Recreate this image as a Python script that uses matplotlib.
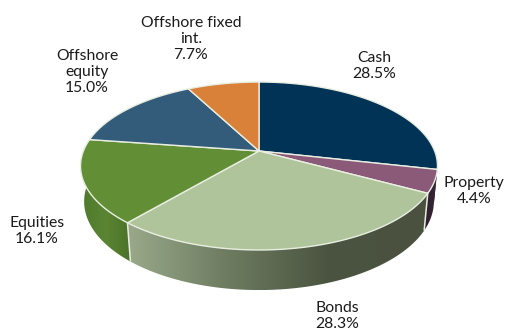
import numpy as np
import matplotlib
matplotlib.use("Agg")
import matplotlib.pyplot as plt
from matplotlib.colors import LinearSegmentedColormap
from matplotlib.patches import Polygon

# Portfolio allocation, clockwise from twelve o'clock
categories = ["Cash", "Property", "Bonds", "Equities", "Offshore equity", "Offshore fixed int."]
shares = [28.5, 4.4, 28.3, 16.1, 15.0, 7.7]
label_text = ["Cash", "Property", "Bonds", "Equities", "Offshore\nequity", "Offshore fixed\nint."]
label_xy = [(374, 66), (474, 191), (337, 316), (37, 231), (87, 72), (191, 39)]
top_colors = ["#003356", "#8a5a78", "#afc49a", "#628e36", "#335c7a", "#d98139"]
wall_stops = [
    ["#002540", "#002540"],
    ["#2f1f2e", "#3a2636"],
    ["#99a98a", "#6d7c60", "#4b5440", "#4a523f"],
    ["#4f7a2c", "#5a8533", "#4b7229"],
    ["#24425a", "#24425a"],
    ["#9c5c28", "#9c5c28"],
]
rim_color = "#e9eee2"

# Perspective projection of the unit disc; depth 0 is the top face, depth 1 the base
APEX_X, APEX_Y = 259.0, 151.0
SCALE_X, SCALE_Y, DROP = 175.6, 81.3, 35.7
TILT, SHRINK = -0.1786, 0.02


def project(theta_deg, radius=1.0, depth=0.0):
    t = np.radians(theta_deg)
    u, v = radius * np.sin(t), -radius * np.cos(t)
    w = 1 + TILT * v + SHRINK * depth
    return APEX_X + SCALE_X * u / w, APEX_Y + (SCALE_Y * v + DROP * depth) / w


plt.rcParams["font.family"] = ["Lato", "DejaVu Sans"]
fig = plt.figure(figsize=(5.05, 3.33), dpi=100)
ax = fig.add_axes([0, 0, 1, 1])
ax.set_xlim(0, 505)
ax.set_ylim(333, 0)
ax.axis("off")

edges = np.concatenate([[0], np.cumsum(shares)]) * 3.6

# Side walls of the near half, each with a horizontal shading ramp
for i in range(len(shares)):
    a, b = max(edges[i], 80), min(edges[i + 1], 285)
    if b <= a:
        continue
    th = np.linspace(a, b, 120)
    xt, yt = project(th)
    xb, yb = project(th, depth=1)
    xs = np.concatenate([xt, xb[::-1]])
    ys = np.concatenate([yt, yb[::-1]])
    poly = Polygon(np.column_stack([xs, ys]), closed=True, fc="none", ec="none", transform=ax.transData)
    ax.add_patch(poly)
    cmap = LinearSegmentedColormap.from_list(f"wall{i}", wall_stops[i])
    img = ax.imshow(
        np.linspace(0, 1, 256)[None, :], cmap=cmap, aspect="auto", zorder=2,
        extent=(xs.min(), xs.max(), ys.max(), ys.min()), interpolation="bilinear",
    )
    img.set_clip_path(poly)

# Dividers running down the wall where two visible slices meet
for angle in edges[2:4]:
    x0, y0 = project(angle)
    x1, y1 = project(angle, depth=1)
    ax.plot([x0, x1], [y0, y1], color=rim_color, lw=1.1, zorder=3, solid_capstyle="butt")
ax.set_xlim(0, 505)
ax.set_ylim(333, 0)

# Top face wedges
for i in range(len(shares)):
    th = np.linspace(edges[i], edges[i + 1], 160)
    x, y = project(th)
    pts = np.column_stack([np.r_[APEX_X, x], np.r_[APEX_Y, y]])
    ax.add_patch(Polygon(pts, closed=True, fc=top_colors[i], ec=rim_color, lw=1.0, zorder=4, joinstyle="round"))

# Category labels with their shares
for name, share, (lx, ly) in zip(label_text, shares, label_xy):
    ax.text(lx, ly, f"{name}\n{share:.1f}%", ha="center", va="center", fontsize=11.3,
            color="#1a1a1a", linespacing=1.2, zorder=5)

fig.savefig("out.png", dpi=100, facecolor="white")
